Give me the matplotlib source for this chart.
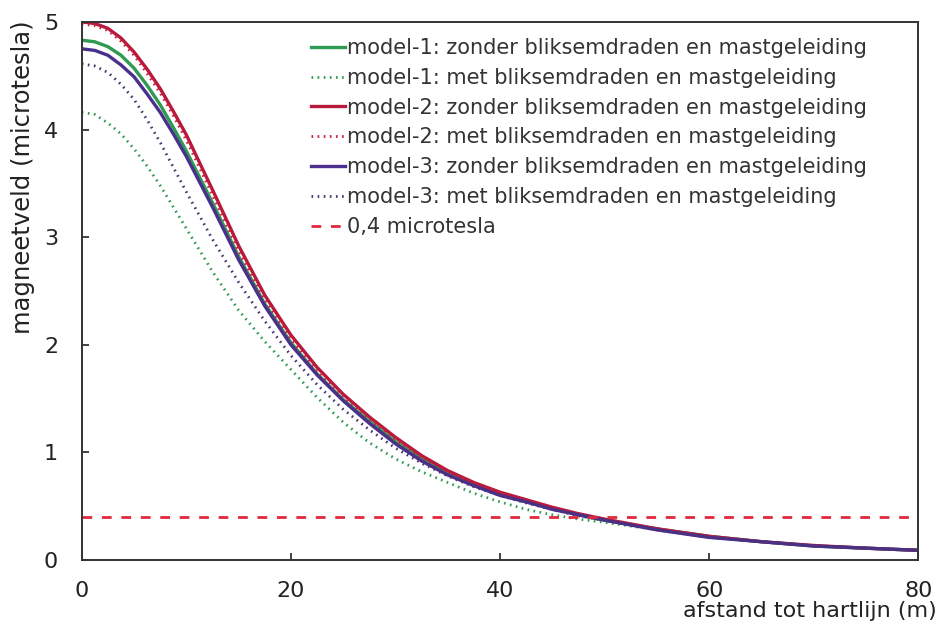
import matplotlib
matplotlib.use("Agg")
import matplotlib.pyplot as plt

# afstand tot hartlijn (m)
afstand = [0, 1.25, 2.5, 3.75, 5, 6.25, 7.5, 8.75, 10, 12.5, 15, 17.5, 20, 22.5, 25, 27.5, 30,
           32.5, 35, 37.5, 40, 42.5, 45, 47.5, 50, 55, 60, 65, 70, 75, 80]

model1_zonder = [4.83, 4.815, 4.77, 4.69, 4.57, 4.41, 4.23, 4.02, 3.80, 3.32, 2.82, 2.38, 2.02, 1.73,
                 1.49, 1.29, 1.10, 0.94, 0.80, 0.70, 0.61, 0.54, 0.48, 0.42, 0.37, 0.29, 0.22, 0.17,
                 0.13, 0.11, 0.09]
model1_met = [4.16, 4.14, 4.06, 3.96, 3.82, 3.66, 3.48, 3.28, 3.08, 2.68, 2.32, 2.03, 1.77, 1.51,
              1.28, 1.09, 0.94, 0.82, 0.72, 0.62, 0.54, 0.47, 0.42, 0.38, 0.35, 0.28, 0.21, 0.17,
              0.13, 0.11, 0.09]
model2_zonder = [5.00, 4.985, 4.94, 4.85, 4.72, 4.56, 4.38, 4.17, 3.95, 3.44, 2.92, 2.46, 2.09, 1.79,
                 1.54, 1.33, 1.14, 0.97, 0.83, 0.72, 0.63, 0.56, 0.49, 0.43, 0.38, 0.29, 0.22, 0.17,
                 0.135, 0.11, 0.09]
model2_met = [4.98, 4.965, 4.92, 4.82, 4.69, 4.52, 4.34, 4.13, 3.90, 3.39, 2.87, 2.42, 2.05, 1.76,
              1.52, 1.31, 1.12, 0.95, 0.82, 0.71, 0.62, 0.55, 0.49, 0.43, 0.38, 0.29, 0.22, 0.17,
              0.135, 0.11, 0.09]
model3_zonder = [4.75, 4.735, 4.69, 4.60, 4.49, 4.33, 4.16, 3.96, 3.75, 3.28, 2.79, 2.36, 2.00, 1.72,
                 1.48, 1.27, 1.08, 0.92, 0.79, 0.69, 0.60, 0.54, 0.47, 0.42, 0.37, 0.28, 0.21, 0.17,
                 0.13, 0.11, 0.09]
model3_met = [4.61, 4.59, 4.53, 4.42, 4.28, 4.09, 3.88, 3.65, 3.42, 2.98, 2.58, 2.22, 1.90, 1.63,
              1.40, 1.21, 1.04, 0.90, 0.78, 0.68, 0.60, 0.53, 0.47, 0.41, 0.37, 0.28, 0.21, 0.17,
              0.13, 0.11, 0.09]
grens = 0.4

labels = ["model-1: zonder bliksemdraden en mastgeleiding",
          "model-1: met bliksemdraden en mastgeleiding",
          "model-2: zonder bliksemdraden en mastgeleiding",
          "model-2: met bliksemdraden en mastgeleiding",
          "model-3: zonder bliksemdraden en mastgeleiding",
          "model-3: met bliksemdraden en mastgeleiding",
          "0,4 microtesla"]

plt.rcParams['font.family'] = ['DejaVu Sans']

fig = plt.figure(figsize=(9.4, 6.26), dpi=100)
ax = fig.add_axes([0.087, 0.1054, 0.890, 0.8596])

green = "#2f9a52"
red = "#b8193c"
purple = "#4a2f8c"
purple_dot = "#4b3470"
dots = (0, (0.6, 1.6))

ax.plot(afstand, model1_zonder, color=green, lw=2.4, label=labels[0])
ax.plot(afstand, model1_met, color=green, lw=2.0, ls=dots, label=labels[1])
ax.plot(afstand, model2_zonder, color=red, lw=2.4, label=labels[2])
ax.plot(afstand, model2_met, color="#c8203c", lw=2.0, ls=dots, label=labels[3])
ax.plot(afstand, model3_zonder, color=purple, lw=2.4, label=labels[4])
ax.plot(afstand, model3_met, color=purple_dot, lw=2.0, ls=dots, label=labels[5])
ax.plot([afstand[0], afstand[-1]], [grens, grens], color="#e0283e", lw=2.0,
        ls=(0, (3.5, 3.5)), label=labels[6])

ax.set_xlim(0, 80)
ax.set_ylim(0, 5)
ax.set_xticks([0, 20, 40, 60, 80])
ax.set_yticks([0, 1, 2, 3, 4, 5])
ax.tick_params(direction='in', length=5, width=1.2, labelsize=16, colors='#222222')
ax.tick_params(axis='x', pad=15)
ax.tick_params(axis='y', pad=17)
for sp in ax.spines.values():
    sp.set_linewidth(1.4)
    sp.set_color('#333333')

fig.text(0.0245, 1 - 20 / 626, "magneetveld (microtesla)", fontsize=17.5, color='#222222',
         rotation=90, ha='center', va='top')
fig.text(0.997, 1 - 611 / 626, "afstand tot hartlijn (m)", fontsize=16, color='#222222',
         ha='right', va='center')

leg = ax.legend(loc='upper right', bbox_to_anchor=(0.938, 0.970), frameon=False, fontsize=15,
                handlelength=1.6, handletextpad=0.1, labelspacing=0.47, borderaxespad=0.0,
                borderpad=0.0)
for t in leg.get_texts():
    t.set_color('#333333')

fig.savefig("out.png", dpi=100)
